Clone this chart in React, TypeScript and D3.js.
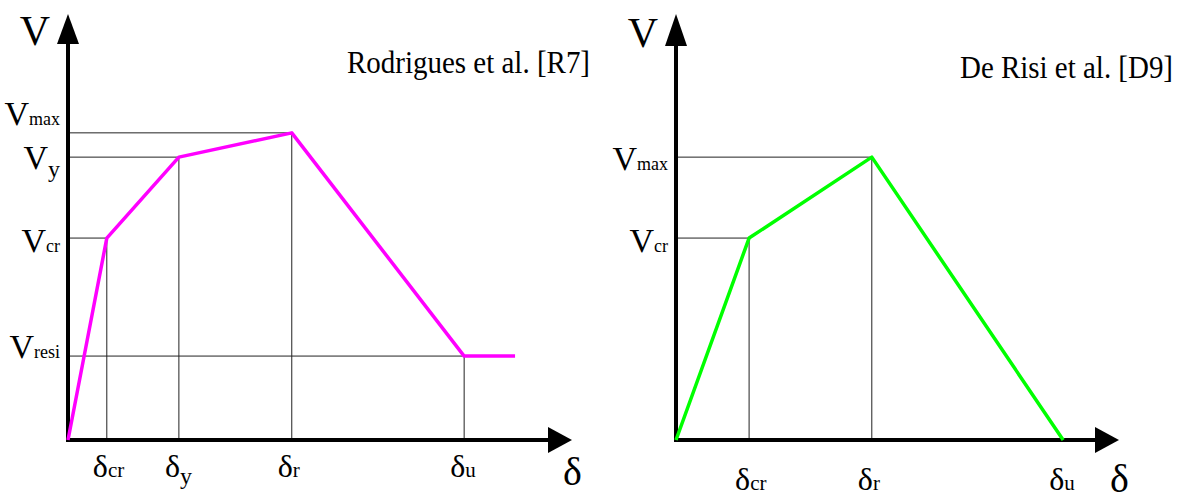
import React, { useLayoutEffect, useRef, useState } from "react";
import * as d3 from "d3";

// Rodrigues et al. [R7] backbone: characteristic points (normalised displacement / shear)
const rodDelta = [0, 7.7, 22.0, 44.4, 78.6, 88.7];
const rodV = [0, 47.4, 66.4, 72.1, 19.7, 19.7];
const rodDeltaSubs = ["cr", "y", "r", "u"];
const rodVSubs = ["cr", "y", "max", "resi"];

// De Risi et al. [D9] backbone
const drDelta = [0, 16.5, 44.2, 87.4];
const drV = [0, 47.4, 66.4, 0];
const drDeltaSubs = ["cr", "r", "u"];
const drVSubs = ["cr", "max"];

const FONT = "Liberation Serif, Tinos, DejaVu Serif, serif";

// Title squeezed horizontally to a fixed width (narrow book face look)
function Title(props: { text: string; x: number; y: number; width: number }) {
  const ref = useRef<SVGTextElement>(null);
  const [sx, setSx] = useState(0.88);
  useLayoutEffect(() => {
    if (ref.current) {
      const len = ref.current.getComputedTextLength();
      if (len > 0) setSx(props.width / len);
    }
  }, [props.text, props.width]);
  return (
    <text
      ref={ref}
      transform={`translate(${props.x},${props.y}) scale(${sx},1)`}
      fontSize={31}
    >
      {props.text}
    </text>
  );
}

type PanelProps = {
  title: string;
  deltas: number[];
  vs: number[];
  deltaSubs: string[];
  vSubs: string[];
  color: string;
  xRange: [number, number];
  titleX: number;
  titleY: number;
  titleLen: number;
  vLabelDy: number[];
  deltaBaseline: number;
  bigDeltaY: number;
  bigVY: number;
  arrowBaseY: number;
};

function Panel(p: PanelProps) {
  const x = d3.scaleLinear().domain([0, 100]).range(p.xRange);
  const y = d3.scaleLinear().domain([0, 100]).range([440, 14]);
  const x0 = x(0);
  const y0 = y(0);
  const xEnd = x(100);
  const yEnd = y(100);
  const arrowLen = 24;

  const line = d3
    .line<number>()
    .x((_, i) => x(p.deltas[i]))
    .y((_, i) => y(p.vs[i]));

  // guide points: every labelled characteristic point off the axis
  const guides = p.deltaSubs
    .map((_, k) => k + 1)
    .filter((i) => p.vs[i] > 0);

  return (
    <g style={{ fontFamily: FONT }} fill="#000">
      {/* guide lines */}
      {guides.map((i) => (
        <g key={"g" + i} stroke="#222" strokeWidth={1}>
          <line x1={x0} x2={x(p.deltas[i])} y1={y(p.vs[i])} y2={y(p.vs[i])} />
          <line x1={x(p.deltas[i])} x2={x(p.deltas[i])} y1={y(p.vs[i])} y2={y0} />
        </g>
      ))}

      {/* axes with arrow heads */}
      <line x1={x0} x2={x0} y1={y0 + 2} y2={p.arrowBaseY} stroke="#000" strokeWidth={4} />
      <polygon
        points={`${x0 - 11},${p.arrowBaseY} ${x0 + 11},${p.arrowBaseY} ${x0},${yEnd}`}
        fill="#000"
      />
      <line x1={x0 - 2} x2={xEnd - arrowLen} y1={y0} y2={y0} stroke="#000" strokeWidth={4} />
      <polygon
        points={`${xEnd - arrowLen},${y0 - 13} ${xEnd - arrowLen},${y0 + 13} ${xEnd},${y0}`}
        fill="#000"
      />

      {/* backbone curve */}
      <path
        d={line(p.deltas) || ""}
        fill="none"
        stroke={p.color}
        strokeWidth={3.5}
        strokeLinejoin="round"
      />

      {/* axis names */}
      <text x={x0 - 18} y={p.bigVY} fontSize={42} textAnchor="end">V</text>
      <text x={xEnd - 9} y={p.bigDeltaY} fontSize={40}>δ</text>

      {/* shear labels */}
      {p.vSubs.map((s, k) => {
        const i = k + 1;
        const isY = s === "y";
        return (
          <text
            key={"v" + s}
            x={x0 - 8}
            y={y(p.vs[i]) + p.vLabelDy[k]}
            fontSize={34}
            textAnchor="end"
          >
            V
            <tspan fontSize={isY ? 24 : 18} dy={isY ? 8 : 0}>{s}</tspan>
          </text>
        );
      })}

      {/* displacement labels */}
      {p.deltaSubs.map((s, k) => {
        const i = k + 1;
        const isY = s === "y";
        return (
          <text key={"d" + s} x={x(p.deltas[i]) - 14} y={p.deltaBaseline} fontSize={32}>
            δ
            <tspan fontSize={isY ? 24 : 21} dy={isY ? 7 : 0}>{s}</tspan>
          </text>
        );
      })}

      <Title text={p.title} x={p.titleX} y={p.titleY} width={p.titleLen} />
    </g>
  );
}

export default function App() {
  return (
    <svg
      width={1180}
      height={501}
      viewBox="0 0 1180 501"
      style={{ position: "absolute", left: 0, top: 0, background: "#fff" }}
    >
      <rect width={1180} height={501} fill="#fff" />
      <Panel
        title="Rodrigues et al. [R7]"
        deltas={rodDelta}
        vs={rodV}
        deltaSubs={rodDeltaSubs}
        vSubs={rodVSubs}
        color="#ff00ff"
        xRange={[68, 572]}
        titleX={347}
        titleY={73}
        titleLen={243}
        vLabelDy={[14, 12, -8, 2]}
        deltaBaseline={477}
        bigDeltaY={485}
        bigVY={45}
        arrowBaseY={44}
      />
      <Panel
        title="De Risi et al. [D9]"
        deltas={drDelta}
        vs={drV}
        deltaSubs={drDeltaSubs}
        vSubs={drVSubs}
        color="#00ff00"
        xRange={[676, 1119]}
        titleX={960}
        titleY={78}
        titleLen={213}
        vLabelDy={[14, 13]}
        deltaBaseline={490}
        bigDeltaY={492}
        bigVY={47}
        arrowBaseY={46}
      />
    </svg>
  );
}
